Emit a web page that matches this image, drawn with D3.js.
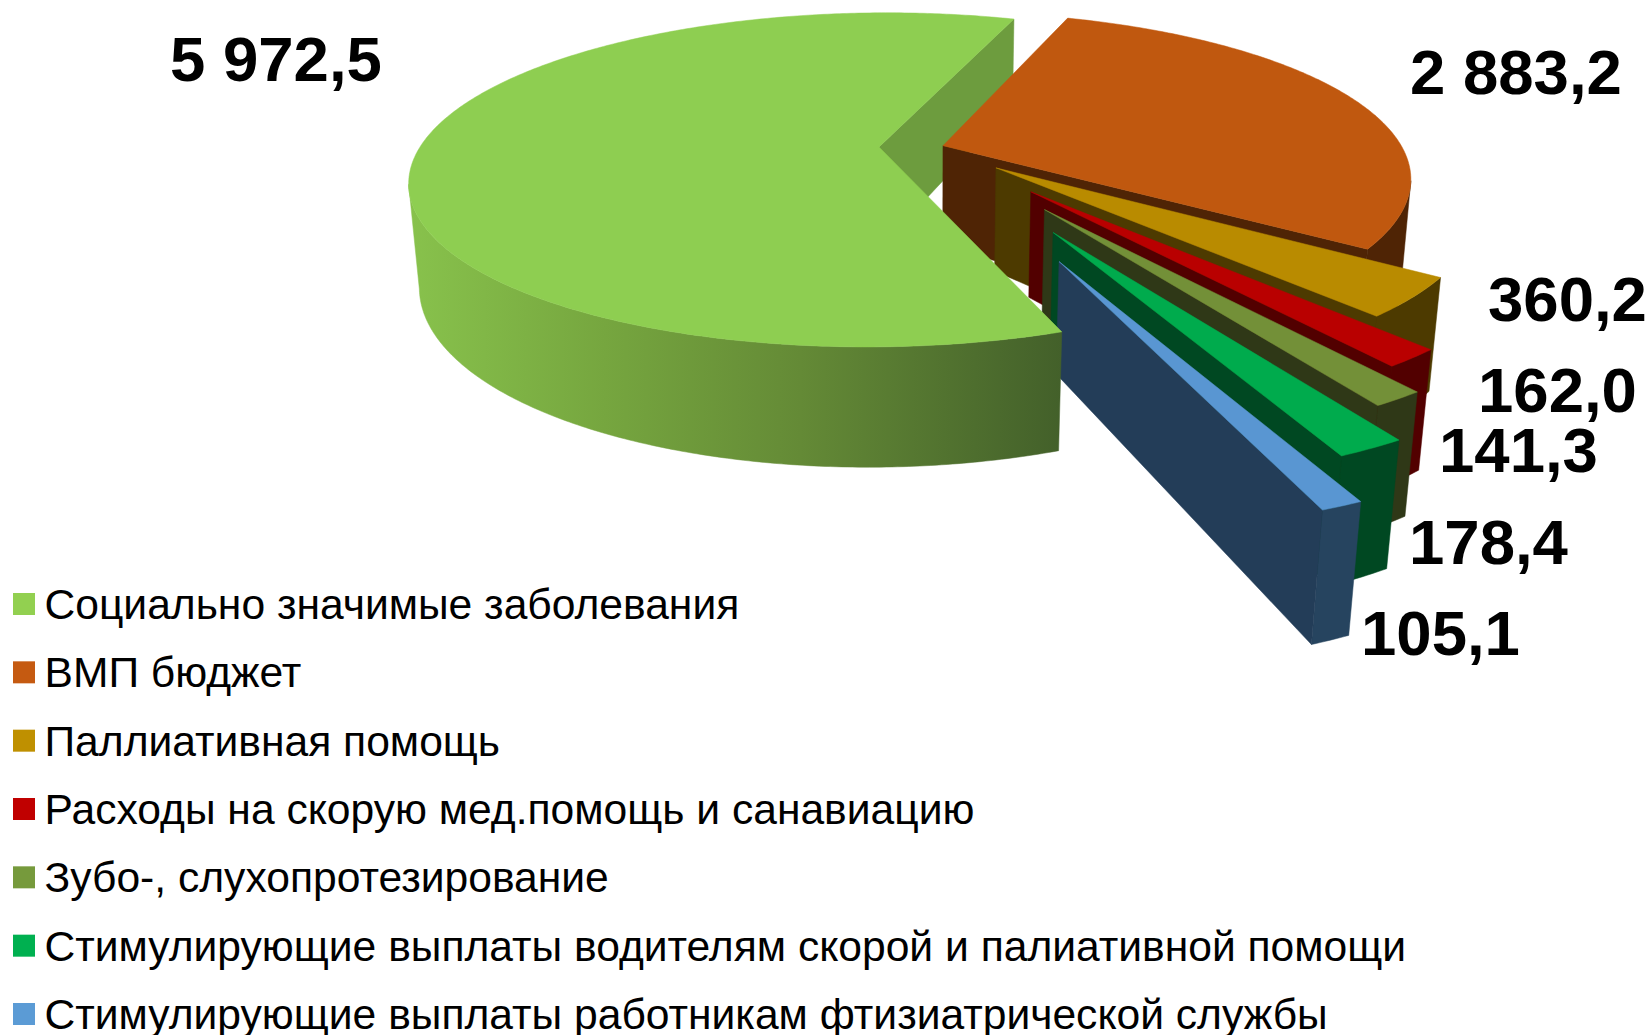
<!DOCTYPE html>
<html><head><meta charset="utf-8">
<script src="https://cdnjs.cloudflare.com/ajax/libs/d3/7.8.5/d3.min.js"></script>
<style>html,body{margin:0;padding:0;background:#fff}svg{display:block}
text{font-family:"Liberation Sans",Arial,sans-serif;fill:#000}</style></head>
<body><div id="chart"></div>
<script>
const categories = ["Социально значимые заболевания","ВМП бюджет","Паллиативная помощь","Расходы на скорую мед.помощь и санавиацию","Зубо-, слухопротезирование","Стимулирующие выплаты водителям скорой и палиативной помощи","Стимулирующие выплаты работникам фтизиатрической службы"];
const values = [5972.5,2883.2,360.2,162.0,141.3,178.4,105.1];
const topColors = ["#8ece51","#c0580f","#b98b00","#b90000","#739038","#00ab4d","#5996d2"];
const wallColors = ["#6d9c3e","#4f2405","#4d3a00","#520000","#2f3817","#004822","#233d58"];
const rimColors = ["url(#gw)","#4f2405","#4d3a00","#520000","#2f3817","#004822","#26445f"];
const legendColors = ["#92d050","#c55a11","#bf9000","#c00000","#769a3c","#00b050","#5b9bd5"];
const explode = [0.1122,0.0285,0.188,0.336,0.429,0.539,0.672];
const labelPos = [[170,81],[1410,94],[1488,321],[1478,412],[1439,472],[1409,564],[1361,655]];

const W=1651,H=1035;
const svg=d3.select("#chart").append("svg").attr("width",W).attr("height",H);
const defs=svg.append("defs");
const grad=defs.append("linearGradient").attr("id","gw").attr("gradientUnits","userSpaceOnUse")
 .attr("x1",408).attr("x2",1062).attr("y1",0).attr("y2",0);
[[0,"#88c24c"],[0.3,"#76a63f"],[0.6,"#648a36"],[1,"#43602a"]].forEach(s=>grad.append("stop").attr("offset",s[0]).attr("stop-color",s[1]));

// perspective projection of the pie's plane
const cam={cx:930.5,cy:147,R:459,Rk:160.6,p:0.197,q:0.02,a:103};
function proj(X,Y,b){const w=1+cam.p*Y+cam.q*b;
  return [cam.cx+cam.R*X/w, cam.cy+(-cam.Rk*Y+cam.a*b)/w];}
const eye=[0,-1/cam.p];
const line=d3.line();

const startDeg=159.8, explodeTurn=0.7*Math.PI/180;
const arcs=d3.pie().sort(null).value(d=>d).startAngle(startDeg*Math.PI/180).endAngle((startDeg+360)*Math.PI/180)(values);
const slices=arcs.map((a,i)=>{
  const mid=(a.startAngle+a.endAngle)/2+explodeTurn;
  const A=[explode[i]*Math.sin(mid),explode[i]*Math.cos(mid)];
  return {i,A,a0:a.startAngle,a1:a.endAngle};
});
const pt=(s,a)=>[s.A[0]+Math.sin(a),s.A[1]+Math.cos(a)];
function drawTop(s){
  const n=Math.max(8,Math.round((s.a1-s.a0)/0.01));
  const pts=[proj(s.A[0],s.A[1],0)];
  d3.range(n+1).forEach(k=>{const p=pt(s,s.a0+(s.a1-s.a0)*k/n);pts.push(proj(p[0],p[1],0));});
  svg.append("path").attr("d",line(pts)+"Z").attr("fill",topColors[s.i]).attr("stroke",topColors[s.i]).attr("stroke-width",0.5);
}
function drawRadial(s,a,sign){
  const n=[sign*Math.cos(a),-sign*Math.sin(a)];
  if((s.A[0]-eye[0])*n[0]+(s.A[1]-eye[1])*n[1]>=0) return;
  const p=pt(s,a);
  const pts=[proj(s.A[0],s.A[1],0),proj(p[0],p[1],0),proj(p[0],p[1],1),proj(s.A[0],s.A[1],1)];
  svg.append("path").attr("d",line(pts)+"Z").attr("fill",wallColors[s.i]).attr("stroke",wallColors[s.i]).attr("stroke-width",0.5);
}
function drawRim(s){
  const n=Math.max(8,Math.round((s.a1-s.a0)/0.01));
  const vis=d3.range(n+1).map(k=>s.a0+(s.a1-s.a0)*k/n).filter(a=>{
    const nn=[Math.sin(a),Math.cos(a)];
    return 1+(s.A[0]-eye[0])*nn[0]+(s.A[1]-eye[1])*nn[1]<0;});
  if(vis.length<2) return;
  const top=vis.map(a=>{const p=pt(s,a);return proj(p[0],p[1],0);});
  const bot=vis.map(a=>{const p=pt(s,a);return proj(p[0],p[1],1);}).reverse();
  svg.append("path").attr("d",line(top.concat(bot))+"Z").attr("fill",rimColors[s.i]).attr("stroke",rimColors[s.i]).attr("stroke-width",0.5);
}
// painter's order: far inner wall of the big slice, then the fan, then the big slice
drawRadial(slices[0],slices[0].a1,1);
slices.slice(1).forEach(s=>{drawRim(s);drawRadial(s,s.a1,1);drawTop(s);});
drawRim(slices[0]);drawTop(slices[0]);

// data labels
const ru=d3.formatLocale({decimal:",",thousands:" ",grouping:[3]}).format(",.1f");
svg.append("g").selectAll("text").data(values).join("text")
 .attr("x",(d,i)=>labelPos[i][0]).attr("y",(d,i)=>labelPos[i][1])
 .attr("font-size",63.5).attr("font-weight","bold").text(d=>ru(d));

// legend
const ly=d3.scalePoint().domain(categories).range([604,1014]);
const lg=svg.append("g").selectAll("g").data(categories).join("g").attr("transform",d=>`translate(0,${ly(d)})`);
lg.append("rect").attr("x",13).attr("y",-11).attr("width",22).attr("height",22).attr("fill",(d,i)=>legendColors[i]);
lg.append("text").attr("x",44.5).attr("y",15).attr("font-size",42.6).text(d=>d);
</script></body></html>
